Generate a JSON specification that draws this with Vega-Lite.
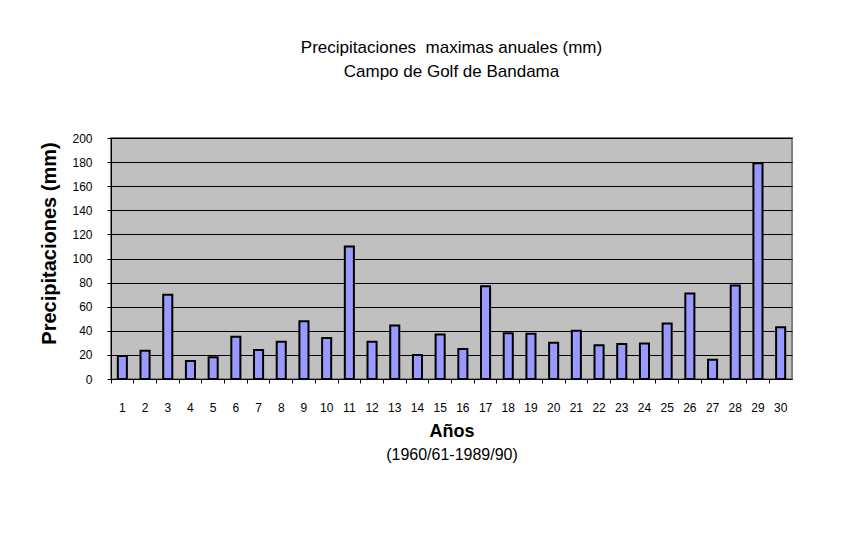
{
  "$schema": "https://vega.github.io/schema/vega-lite/v6.json",
  "width": 681,
  "height": 241,
  "autosize": {"type": "none"},
  "padding": {"left": 111, "top": 138, "right": 60, "bottom": 164},
  "background": "white",
  "title": {
    "text": ["Precipitaciones\u00a0 maximas anuales (mm)", "Campo de Golf de Bandama"],
    "fontSize": 17,
    "fontWeight": "normal",
    "lineHeight": 24,
    "anchor": "middle",
    "offset": 51,
    "color": "black"
  },
  "data": {
    "values": [
      {"anio": 1, "mm": 19}, {"anio": 2, "mm": 23.5}, {"anio": 3, "mm": 70},
      {"anio": 4, "mm": 15}, {"anio": 5, "mm": 18}, {"anio": 6, "mm": 35},
      {"anio": 7, "mm": 24}, {"anio": 8, "mm": 31}, {"anio": 9, "mm": 48},
      {"anio": 10, "mm": 34}, {"anio": 11, "mm": 110}, {"anio": 12, "mm": 31},
      {"anio": 13, "mm": 44.5}, {"anio": 14, "mm": 20}, {"anio": 15, "mm": 37},
      {"anio": 16, "mm": 25}, {"anio": 17, "mm": 77}, {"anio": 18, "mm": 38},
      {"anio": 19, "mm": 37.5}, {"anio": 20, "mm": 30}, {"anio": 21, "mm": 40},
      {"anio": 22, "mm": 28}, {"anio": 23, "mm": 29}, {"anio": 24, "mm": 29.5},
      {"anio": 25, "mm": 46}, {"anio": 26, "mm": 71}, {"anio": 27, "mm": 16},
      {"anio": 28, "mm": 77.5}, {"anio": 29, "mm": 179}, {"anio": 30, "mm": 43}
    ]
  },
  "layer": [
    {
      "mark": {"type": "bar", "fill": "#9999FF", "stroke": "black", "strokeWidth": 2},
      "encoding": {
        "x": {
          "field": "anio",
          "type": "ordinal",
          "scale": {"paddingInner": 0.6, "paddingOuter": 0.3},
          "axis": {
            "orient": "bottom",
            "title": "Años",
            "titleFontSize": 18,
            "titleFontWeight": "bold",
            "titlePadding": 9,
            "labelAngle": 0,
            "labelFontSize": 12,
            "labelPadding": 19,
            "tickSize": 4,
            "bandPosition": -0.75,
            "grid": false
          }
        },
        "y": {
          "field": "mm",
          "type": "quantitative",
          "scale": {"domain": [0, 200], "nice": false},
          "axis": {
            "title": "Precipitaciones (mm)",
            "titleFontSize": 20,
            "titleFontWeight": "bold",
            "titlePadding": 12,
            "titleY": 105,
            "values": [0, 20, 40, 60, 80, 100, 120, 140, 160, 180, 200],
            "labelFontSize": 12,
            "labelPadding": 15,
            "tickSize": 4,
            "grid": true,
            "gridColor": "#000000",
            "gridWidth": 1
          }
        }
      }
    },
    {
      "mark": {"type": "bar", "opacity": 0},
      "encoding": {
        "x": {
          "field": "anio",
          "type": "ordinal",
          "axis": {
            "orient": "bottom",
            "title": "(1960/61-1989/90)",
            "titleFontSize": 16,
            "titleFontWeight": "normal",
            "titlePadding": 67,
            "labels": false,
            "ticks": false,
            "domain": false,
            "grid": false
          }
        }
      }
    }
  ],
  "resolve": {"axis": {"x": "independent"}},
  "config": {
    "font": "Liberation Sans",
    "view": {"fill": "#C0C0C0", "stroke": "#808080", "strokeWidth": 2},
    "axis": {
      "labelColor": "#000000",
      "titleColor": "#000000",
      "tickColor": "#000000",
      "domainColor": "#000000",
      "labelFont": "Liberation Sans",
      "titleFont": "Liberation Sans"
    },
    "title": {"font": "Liberation Sans"}
  }
}
